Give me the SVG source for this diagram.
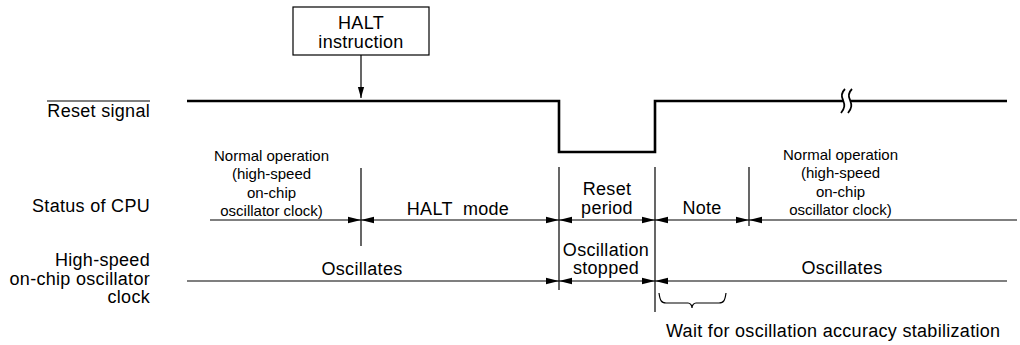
<svg xmlns="http://www.w3.org/2000/svg" width="1020" height="345" viewBox="0 0 1020 345">
<style>
text{font-family:"Liberation Sans",Arial,sans-serif;fill:#000}
.l{font-size:18px;letter-spacing:0.3px}
.s{font-size:15px}
.m{text-anchor:middle}
.e{text-anchor:end}
.ln{stroke:#000;stroke-width:1.2;fill:none}
.sig{stroke:#000;stroke-width:2.6;fill:none}
.d{stroke:#000;stroke-width:1.2;fill:none;marker-start:url(#ah);marker-end:url(#ah)}
.de{stroke:#000;stroke-width:1.2;fill:none;marker-end:url(#ah)}
</style>
<defs>
<marker id="ah" markerUnits="userSpaceOnUse" markerWidth="14" markerHeight="8" refX="13" refY="4" orient="auto-start-reverse">
<path d="M0,0.8 L13,4 L0,7.2 z" fill="#000"/>
</marker>
<marker id="ah2" markerUnits="userSpaceOnUse" markerWidth="12" markerHeight="8" refX="11" refY="4" orient="auto">
<path d="M0,0.9 L11,4 L0,7.1 z" fill="#000"/>
</marker>
</defs>

<g id="labels">
<text class="l e" x="150" y="117">Reset signal</text>
<line class="ln" x1="47" y1="101" x2="150" y2="101"/>
<text class="l e" x="150" y="212">Status of CPU</text>
<text class="l e" x="150" y="266">High-speed</text>
<text class="l e" x="150" y="284.5">on-chip oscillator</text>
<text class="l e" x="150" y="303">clock</text>
</g>

<g id="halt-instruction">
<rect x="293" y="7" width="136" height="48" fill="#fff" stroke="#000" stroke-width="1.2"/>
<text class="l m" x="361" y="29">HALT</text>
<text class="l m" x="361" y="47.5">instruction</text>
</g>

<g id="reset-signal">
<path class="sig" d="M187 101 H559 V152 H655 V101 H843"/>
<path class="sig" d="M850 101 H1007"/>
<path stroke="#000" stroke-width="1.8" fill="none" d="M845 89 C841 93 841 96 843 100 C845 105 845 108 841 113"/>
<path stroke="#000" stroke-width="1.8" fill="none" d="M852 89 C848 93 848 96 850 100 C852 105 852 108 848 113"/>
</g>

<g id="normal-op-left">
<text class="s m" x="271.5" y="160.5">Normal operation</text>
<text class="s m" x="271.5" y="179">(high-speed</text>
<text class="s m" x="271.5" y="197.5">on-chip</text>
<text class="s m" x="271.5" y="216">oscillator clock)</text>
</g>
<g id="halt-mode"><text class="l m" x="458" y="215" xml:space="preserve">HALT  mode</text></g>
<g id="reset-period">
<text class="l m" x="607" y="195">Reset</text>
<text class="l m" x="607" y="213.5">period</text>
</g>
<g id="note"><text class="l m" x="702" y="214">Note</text></g>
<g id="normal-op-right">
<text class="s m" x="840.5" y="159.5">Normal operation</text>
<text class="s m" x="840.5" y="178">(high-speed</text>
<text class="s m" x="840.5" y="196.5">on-chip</text>
<text class="s m" x="840.5" y="215">oscillator clock)</text>
</g>
<g id="oscillates-left"><text class="l m" x="362" y="274.5">Oscillates</text></g>
<g id="oscillation-stopped">
<text class="l m" x="606" y="256">Oscillation</text>
<text class="l m" x="606" y="274">stopped</text>
</g>
<g id="oscillates-right"><text class="l m" x="842" y="273.5">Oscillates</text></g>
<g id="wait-note">
<path class="ln" d="M659 293 C660 300 661 303 666 303 H688 C690 303 692 305 692 308 C692 305 694 303 696 303 H719 C724 303 725 300 726 293"/>
<text class="l" x="666" y="337">Wait for oscillation accuracy stabilization</text>
</g>

<g id="connectors">
<line x1="361" y1="55" x2="361" y2="98" stroke="#000" stroke-width="1.2" marker-end="url(#ah2)"/>
<line class="ln" x1="361" y1="168" x2="361" y2="246"/>
<line class="ln" x1="559" y1="167" x2="559" y2="290"/>
<line class="ln" x1="655" y1="167" x2="655" y2="312"/>
<line class="ln" x1="749" y1="167" x2="749" y2="226"/>
<line class="de" x1="210" y1="220" x2="361" y2="220"/>
<line class="d" x1="361" y1="220" x2="559" y2="220"/>
<line class="d" x1="559" y1="220" x2="655" y2="220"/>
<line class="d" x1="655" y1="220" x2="749" y2="220"/>
<line class="de" x1="1017" y1="220" x2="749" y2="220"/>
<line class="de" x1="187" y1="281" x2="559" y2="281"/>
<line class="d" x1="559" y1="281" x2="655" y2="281"/>
<line class="de" x1="1007" y1="281" x2="655" y2="281"/>
</g>
</svg>
